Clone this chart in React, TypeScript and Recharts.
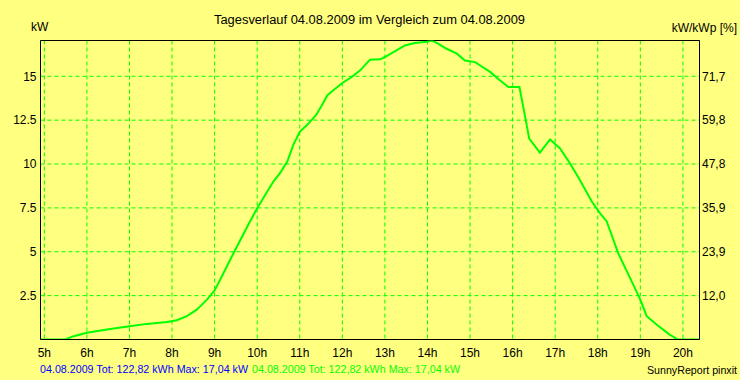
import React from 'react';
import { LineChart, Line, XAxis, YAxis, CartesianGrid, ReferenceLine } from 'recharts';

const hours = [4.91, 5.49, 5.69, 6.0, 6.47, 7.0, 7.41, 7.88, 8.11, 8.35, 8.58, 8.82, 9.0, 9.21, 9.44, 9.76, 10.0, 10.38, 10.54, 10.71, 10.85, 11.0, 11.17, 11.38, 11.52, 11.65, 11.79, 12.0, 12.22, 12.42, 12.65, 12.89, 13.0, 13.24, 13.47, 13.7, 13.98, 14.1, 14.22, 14.45, 14.69, 14.88, 15.12, 15.23, 15.47, 15.7, 15.9, 16.16, 16.25, 16.39, 16.64, 16.88, 17.11, 17.35, 17.58, 17.86, 18.05, 18.21, 18.48, 18.76, 19.0, 19.15, 19.38, 19.69, 19.88, 20.39];
const power = [0, 0, 0.19, 0.38, 0.57, 0.76, 0.89, 1.0, 1.1, 1.33, 1.7, 2.27, 2.8, 3.79, 4.9, 6.4, 7.48, 9.0, 9.5, 10.15, 11.1, 11.84, 12.22, 12.78, 13.35, 13.92, 14.2, 14.62, 14.96, 15.34, 15.95, 15.97, 16.1, 16.44, 16.76, 16.9, 16.97, 17.04, 16.9, 16.57, 16.29, 15.9, 15.81, 15.63, 15.25, 14.77, 14.39, 14.39, 13.26, 11.45, 10.65, 11.4, 10.9, 10.03, 9.09, 7.86, 7.2, 6.73, 4.92, 3.5, 2.27, 1.33, 0.85, 0.28, 0, 0];

const xTicks = [5, 6, 7, 8, 9, 10, 11, 12, 13, 14, 15, 16, 17, 18, 19, 20];
const xTickLabels = ['5h', '6h', '7h', '8h', '9h', '10h', '11h', '12h', '13h', '14h', '15h', '16h', '17h', '18h', '19h', '20h'];
const yTicks = [2.5, 5, 7.5, 10, 12.5, 15];
const yTickLabels = ['2.5', '5', '7.5', '10', '12.5', '15'];
const pctTickLabels = ['12,0', '23,9', '35,9', '47,8', '59,8', '71,7'];
const maxKW = 17.04;
const xDomain = [4.91, 20.39];

const titleText = 'Tagesverlauf 04.08.2009 im Vergleich zum 04.08.2009';
const leftUnit = 'kW';
const rightUnit = 'kW/kWp [%]';
const footerBlue = '04.08.2009 Tot: 122,82 kWh Max: 17,04 kW';
const footerGreen = '04.08.2009 Tot: 122,82 kWh Max: 17,04 kW';
const credit = 'SunnyReport pinxit';

const data = hours.map((h, i) => ({ h, kw: power[i] }));

const FONT = '"Liberation Sans", Arial, sans-serif';

export default function App() {
  return (
    <div style={{ position: 'absolute', left: 0, top: 0, width: 740, height: 380, background: '#FFFF80', fontFamily: FONT }}>
      <LineChart width={740} height={380} data={data} margin={{ top: 40.5, right: 0, bottom: 20.5, left: 0 }}>
        <CartesianGrid stroke="#00FF00" strokeDasharray="4 3" />
        <XAxis
          type="number"
          dataKey="h"
          domain={xDomain}
          ticks={xTicks}
          interval={0}
          allowDataOverflow
          tickFormatter={(v) => xTickLabels[xTicks.indexOf(v)]}
          axisLine={{ stroke: '#000' }}
          tickLine={false}
          tickSize={0}
          tickMargin={9}
          height={20}
          tick={{ fill: '#000', fontSize: 12, fontFamily: FONT }}
        />
        <YAxis
          domain={[0, maxKW]}
          ticks={yTicks}
          interval={0}
          allowDataOverflow
          tickFormatter={(v) => yTickLabels[yTicks.indexOf(v)]}
          axisLine={{ stroke: '#000' }}
          tickLine={false}
          tickSize={0}
          tickMargin={4}
          width={40.5}
          tick={{ fill: '#000', fontSize: 12, fontFamily: FONT }}
        />
        <YAxis
          yAxisId="right"
          orientation="right"
          domain={[0, maxKW]}
          ticks={yTicks}
          interval={0}
          allowDataOverflow
          tickFormatter={(v) => pctTickLabels[yTicks.indexOf(v)]}
          axisLine={{ stroke: '#000' }}
          tickLine={false}
          tickSize={0}
          tickMargin={2.5}
          width={40.5}
          tick={{ fill: '#000', fontSize: 12, fontFamily: FONT, textAnchor: 'start' }}
        />
        <ReferenceLine y={maxKW} stroke="#000" strokeWidth={1} />
        <Line type="linear" dataKey="kw" stroke="#00FF00" strokeWidth={2} dot={false} isAnimationActive={false} />
      </LineChart>
      <svg width={740} height={380} style={{ position: 'absolute', left: 0, top: 0, pointerEvents: 'none' }} fontFamily={FONT}>
        <text x={214} y={24} fontSize={12.5} fill="#000" textLength={311} lengthAdjust="spacingAndGlyphs">{titleText}</text>
        <text x={31} y={31} fontSize={12} fill="#000">{leftUnit}</text>
        <text x={737} y={32} textAnchor="end" fontSize={12} fill="#000">{rightUnit}</text>
        <text x={40} y={373} fontSize={11} fill="#0000FF" textLength={208} lengthAdjust="spacingAndGlyphs">{footerBlue}</text>
        <text x={252} y={373} fontSize={11} fill="#00FF00" textLength={208} lengthAdjust="spacingAndGlyphs">{footerGreen}</text>
        <text x={647} y={374} fontSize={11} fill="#000" textLength={90} lengthAdjust="spacingAndGlyphs">{credit}</text>
      </svg>
    </div>
  );
}
